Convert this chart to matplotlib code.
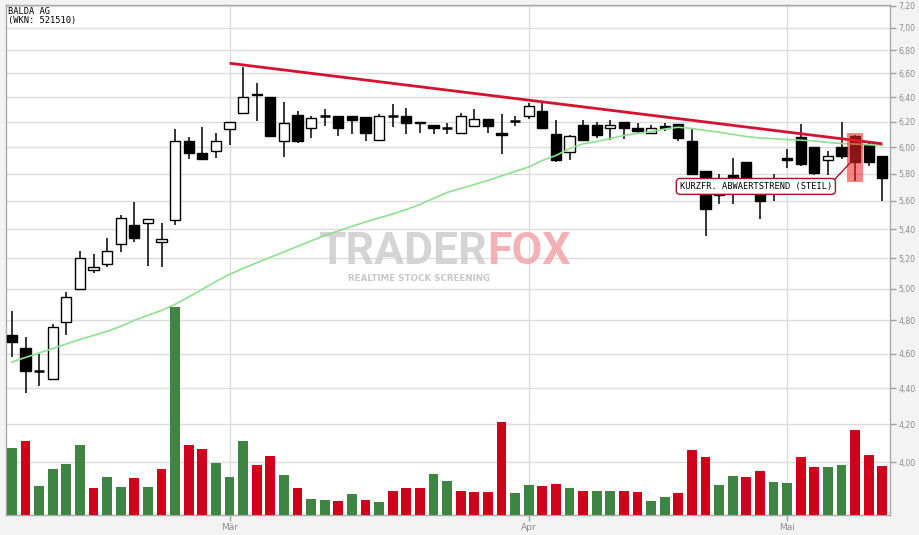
import matplotlib
matplotlib.use("Agg")
import matplotlib.pyplot as plt
from matplotlib.patches import Rectangle
from matplotlib.ticker import FixedLocator, NullLocator, FixedFormatter
import numpy as np

# ---------------- data ----------------
title_lines = ["BALDA AG", "(WKN: 521510)"]

opens = [4.71, 4.63, 4.50, 4.45, 4.79, 5.00, 5.12, 5.16, 5.30, 5.43,
         5.44, 5.31, 5.46, 6.05, 5.955, 5.97, 6.14, 6.27, 6.43, 6.40,
         6.05, 6.255, 6.15, 6.245, 6.25, 6.25, 6.24, 6.055, 6.245, 6.25,
         6.195, 6.175, 6.15, 6.11, 6.165, 6.22, 6.11, 6.21, 6.25, 6.29,
         6.10, 5.96, 6.175, 6.175, 6.15, 6.20, 6.15, 6.11, 6.17, 6.18,
         6.05, 5.82, 5.65, 5.79, 5.89, 5.70, 5.72, 5.92, 6.08, 6.00,
         5.905, 6.00, 6.085, 6.02, 5.93]
highs = [4.86, 4.70, 4.60, 4.78, 4.98, 5.25, 5.23, 5.34, 5.50, 5.59,
         5.47, 5.445, 6.14, 6.08, 6.16, 6.11, 6.20, 6.65, 6.52, 6.40,
         6.36, 6.29, 6.25, 6.30, 6.25, 6.25, 6.24, 6.26, 6.34, 6.31,
         6.195, 6.175, 6.19, 6.27, 6.30, 6.22, 6.26, 6.25, 6.355, 6.355,
         6.215, 6.095, 6.215, 6.20, 6.215, 6.20, 6.19, 6.175, 6.19, 6.18,
         6.14, 5.82, 5.80, 5.92, 5.89, 5.74, 5.80, 5.99, 6.18, 6.00,
         5.975, 6.20, 6.095, 6.05, 5.93]
lows = [4.58, 4.37, 4.41, 4.45, 4.71, 5.00, 5.10, 5.14, 5.24, 5.31,
        5.15, 5.145, 5.43, 5.91, 5.91, 5.92, 6.015, 6.27, 6.21, 6.085,
        5.925, 6.03, 6.07, 6.17, 6.09, 6.10, 6.05, 6.055, 6.155, 6.10,
        6.11, 6.10, 6.10, 6.11, 6.165, 6.11, 5.95, 6.165, 6.225, 6.15,
        5.885, 5.90, 6.045, 6.075, 6.055, 6.065, 6.10, 6.11, 6.13, 6.05,
        5.80, 5.35, 5.58, 5.58, 5.72, 5.47, 5.60, 5.84, 5.86, 5.79,
        5.79, 5.91, 5.748, 5.86, 5.60]
closes = [4.67, 4.50, 4.50, 4.76, 4.95, 5.20, 5.14, 5.25, 5.48, 5.34,
          5.47, 5.33, 6.05, 5.955, 5.91, 6.05, 6.20, 6.40, 6.415, 6.085,
          6.19, 6.05, 6.23, 6.245, 6.15, 6.215, 6.11, 6.25, 6.245, 6.19,
          6.19, 6.15, 6.15, 6.25, 6.22, 6.165, 6.095, 6.21, 6.33, 6.15,
          5.905, 6.085, 6.055, 6.095, 6.175, 6.15, 6.13, 6.15, 6.15, 6.07,
          5.80, 5.54, 5.64, 5.77, 5.74, 5.60, 5.70, 5.905, 5.875, 5.805,
          5.935, 5.93, 5.89, 5.885, 5.765]

sma = [4.550, 4.577, 4.603, 4.630, 4.657, 4.684, 4.709, 4.733, 4.764, 4.801,
       4.832, 4.863, 4.901, 4.948, 4.997, 5.048, 5.094, 5.133, 5.170, 5.207,
       5.244, 5.281, 5.318, 5.356, 5.387, 5.419, 5.450, 5.478, 5.506, 5.538,
       5.574, 5.617, 5.661, 5.690, 5.719, 5.749, 5.783, 5.816, 5.850, 5.899,
       5.937, 5.991, 6.027, 6.045, 6.068, 6.092, 6.108, 6.123, 6.143, 6.157,
       6.147, 6.131, 6.118, 6.100, 6.084, 6.072, 6.066, 6.060, 6.055, 6.049,
       6.037, 6.029, 6.025, 6.019, 6.014]

volume = [67, 74, 29, 46, 51, 70, 27, 38, 28, 37,
          28, 46, 208, 70, 66, 52, 38, 74, 50, 59,
          40, 27, 16, 15, 14, 21, 15, 13, 24, 27,
          27, 41, 34, 24, 23, 23, 93, 22, 30, 29,
          31, 27, 24, 24, 24, 24, 23, 14, 18, 22,
          65, 58, 30, 39, 38, 44, 33, 32, 58, 48,
          48, 50, 85, 60, 49]
vol_up = [1, 0, 1, 1, 1, 1, 0, 1, 1, 0,
          1, 0, 1, 0, 0, 1, 1, 1, 0, 0,
          1, 0, 1, 1, 0, 1, 0, 1, 0, 0,
          0, 1, 1, 0, 0, 0, 0, 1, 1, 0,
          0, 1, 0, 1, 1, 0, 0, 1, 1, 0,
          0, 0, 1, 1, 0, 0, 1, 1, 0, 0,
          1, 1, 0, 0, 0]

month_pos = [16, 38, 57]
month_labels = ["Mär", "Apr", "Mai"]
price_ticks = [4.00, 4.20, 4.40, 4.60, 4.80, 5.00, 5.20, 5.40, 5.60, 5.80,
               6.00, 6.20, 6.40, 6.60, 6.80, 7.00, 7.20]

trend_idx = [16, 64]
trend_val = [6.686, 6.027]

signal_idx = 62
signal_text = "KURZFR. ABWAERTSTREND (STEIL)"

# ---------------- figure ----------------
fig = plt.figure(figsize=(9.2, 5.35), dpi=100, facecolor="#f3f3f3")
ax = fig.add_axes([6 / 920, 20 / 535, 884.5 / 920, 510 / 535])
ax.set_facecolor("white")
ax.set_yscale("log")
ax.set_xlim(-0.44, 64.6)
ax.set_ylim(3.736, 7.207)

n = len(closes)
x = np.arange(n)

# grid
for p in price_ticks:
    ax.axhline(p, color="#dcdcdc", lw=1, zorder=0)
for m in month_pos:
    ax.axvline(m, color="#dcdcdc", lw=1, zorder=0)

# volume on twin axis
axv = ax.twinx()
axv.set_ylim(0, 510)
axv.patch.set_visible(False)
axv.set_yticks([])
vcol = ["#3e8442" if u else "#d0021b" for u in vol_up]
axv.bar(x, volume, width=0.72, color=vcol, zorder=1)
for s in axv.spines.values():
    s.set_visible(False)

# candles
w = 0.75
ax.vlines(x, lows, highs, color="black", lw=1.1, zorder=3)
for i in range(n):
    o, c = opens[i], closes[i]
    if abs(o - c) < 0.004:
        ax.hlines(o, i - w / 2, i + w / 2, color="black", lw=1.8, zorder=4)
        continue
    up = c > o
    ax.bar(i, abs(c - o), bottom=min(o, c), width=w,
           color="white" if up else "black", edgecolor="black", lw=1.0, zorder=4)

# moving average
ax.plot(x, sma, color="#8fe08f", lw=1.2, zorder=5)

# trend line
ax.plot(trend_idx, trend_val, color="#d4112f", lw=2, zorder=6, solid_capstyle="butt")

# highlight for signal candle
hi = highs[signal_idx] * 1.0025
lo = lows[signal_idx] * 0.998
ax.add_patch(Rectangle((signal_idx - 0.59, lo), 1.18, hi - lo,
                       facecolor="#f52424", alpha=0.57, edgecolor="none", zorder=7))

ax.annotate(signal_text,
            xy=(signal_idx + 0.05, (opens[signal_idx] + closes[signal_idx]) / 2 * 0.99),
            xytext=(54.7, 5.705), textcoords="data",
            ha="center", va="center", fontsize=6.2, family="DejaVu Sans Mono",
            color="black", zorder=8,
            bbox=dict(boxstyle="round,pad=0.4,rounding_size=0.45", fc="white",
                      ec="#a3132a", lw=1),
            arrowprops=dict(arrowstyle="-", color="#a3132a", lw=1,
                            relpos=(1.0, 0.95), shrinkA=0, shrinkB=0))

# watermark
ax.text(0.544, 0.492, "TRADER", transform=ax.transAxes, fontsize=32, fontweight="bold",
        family="Roboto", color="#cdcdcd", alpha=0.85, ha="right", va="baseline", zorder=2)
ax.text(0.544, 0.492, "FOX", transform=ax.transAxes, fontsize=32, fontweight="bold",
        family="Roboto", color="#f2a3a9", alpha=0.85, ha="left", va="baseline", zorder=2)
ax.text(0.467, 0.472, "REALTIME STOCK SCREENING", transform=ax.transAxes, fontsize=6.3,
        fontweight="bold", family="DejaVu Sans", color="#c8c8c8", ha="center",
        va="top", zorder=2)

# title
fig.text(8 / 920, 1 - 11 / 535, title_lines[0], fontsize=6.3, family="DejaVu Sans Mono",
         ha="left", va="center", color="black")
fig.text(8 / 920, 1 - 20 / 535, title_lines[1], fontsize=6.3, family="DejaVu Sans Mono",
         ha="left", va="center", color="black")

# axes styling
ax.yaxis.tick_right()
ax.yaxis.set_major_locator(FixedLocator(price_ticks))
ax.yaxis.set_major_formatter(FixedFormatter([f"{p:.2f}".replace(".", ",") for p in price_ticks]))
ax.yaxis.set_minor_locator(NullLocator())
ax.tick_params(axis="y", which="major", length=4, width=1, color="#a0a0a0",
               labelcolor="#8c8c8c", labelsize=5.6, pad=2)
ax.set_xticks(month_pos)
ax.set_xticklabels(month_labels)
ax.tick_params(axis="x", length=4, width=1, color="#a0a0a0",
               labelcolor="#8c8c8c", labelsize=6.5, pad=2)
for s in ax.spines.values():
    s.set_color("#a8a8a8")
    s.set_linewidth(1)

fig.savefig("out.png", dpi=100, facecolor=fig.get_facecolor())
